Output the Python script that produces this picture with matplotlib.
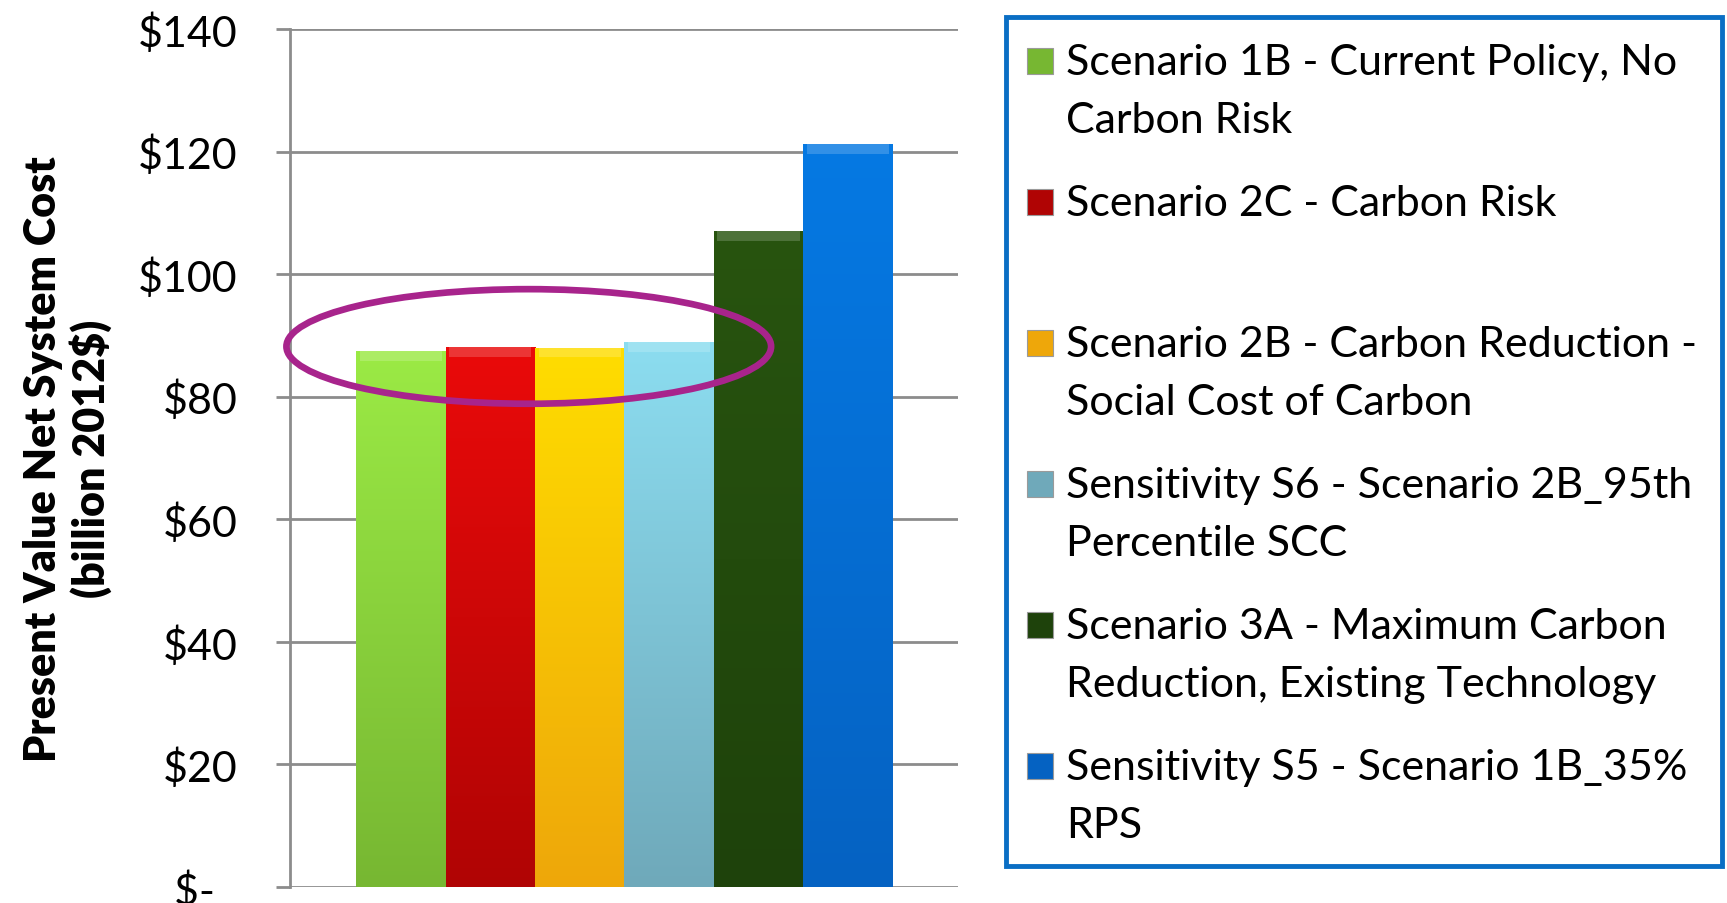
import numpy as np
import matplotlib.pyplot as plt
from matplotlib.patches import Ellipse, Rectangle
from matplotlib.colors import LinearSegmentedColormap

plt.rcParams['font.family'] = ['Lato', 'DejaVu Sans']

labels = ['Scenario 1B - Current Policy, No\nCarbon Risk',
          'Scenario 2C - Carbon Risk',
          'Scenario 2B - Carbon Reduction -\nSocial Cost of Carbon',
          'Sensitivity S6 - Scenario 2B_95th\nPercentile SCC',
          'Scenario 3A - Maximum Carbon\nReduction, Existing Technology',
          'Sensitivity S5 - Scenario 1B_35%\nRPS']
values = [87.4, 88.1, 88.0, 88.9, 107.0, 121.2]
# top / bottom colours of each bar gradient
top_colors = ['#9BEA45', '#EA0A0A', '#FFDD00', '#8CDDF0', '#28540F', '#0679E3']
bot_colors = ['#77B732', '#B00404', '#EEA70A', '#6FA9BA', '#1E420B', '#0562C2']
yticks = [0, 20, 40, 60, 80, 100, 120, 140]
yticklabels = ['$-  ', '$20', '$40', '$60', '$80', '$100', '$120', '$140']

fig = plt.figure(figsize=(17.27, 9.04), dpi=100)
ax = fig.add_axes([290/1727, 1 - 888/904, (958-290)/1727, (888-30)/904])

x = np.arange(len(values))
bars = ax.bar(x, values, width=1.0, color=bot_colors, zorder=2,
              edgecolor='none')
for b, c1, c2 in zip(bars, top_colors, bot_colors):
    cmap = LinearSegmentedColormap.from_list('g', [c2, c1])
    grad = np.linspace(0, 1, 256).reshape(-1, 1)
    x0, w, h = b.get_x(), b.get_width(), b.get_height()
    im = ax.imshow(grad, cmap=cmap, origin='lower', aspect='auto',
                   extent=[x0, x0 + w, 0, h], zorder=2.5)
    im.set_clip_path(b)
    # thin lighter bevel at the top
    ax.add_patch(Rectangle((x0 + 0.04, h - 1.6), w - 0.08, 1.6,
                           color='white', alpha=0.18, lw=0, zorder=3))

ax.set_xlim(-1.24, 6.23)
ax.set_ylim(0, 140)
ax.set_yticks(yticks)
ax.set_yticklabels(yticklabels)
ax.set_xticks([])
ax.yaxis.grid(True, color='#8C8C8C', linewidth=2, zorder=0)
ax.set_axisbelow(True)
ax.tick_params(axis='y', length=10, width=2, color='#8C8C8C', pad=28,
               labelsize=31)
for s in ['top', 'right', 'bottom']:
    ax.spines[s].set_visible(False)
ax.spines['left'].set_color('#8C8C8C')
ax.spines['left'].set_linewidth(2)

ax.set_ylabel('Present Value Net System Cost\n(billion 2012$)',
              fontsize=31, fontweight='heavy', labelpad=18, linespacing=1.2)

ell = Ellipse((1.43, 88.2), 5.42, 18.7, fill=False, edgecolor='#A8248C',
              linewidth=4.8, zorder=4, clip_on=False)
ax.add_patch(ell)

# legend box
fig.patches.append(Rectangle((1006/1727, 1 - 867/904), (1722-1006)/1727,
                             (867-18)/904, transform=fig.transFigure,
                             fill=False, edgecolor='#0A6EC4', linewidth=3.5))
for i, (lab, c1, c2) in enumerate(zip(labels, top_colors, bot_colors)):
    ytop = 62 + i * 141
    fig.patches.append(Rectangle((1027/1727, 1 - (ytop + 13)/904),
                                 26/1727, 26/904, transform=fig.transFigure,
                                 facecolor=c2, edgecolor='#9A9A9A',
                                 linewidth=0.8))
    fig.text(1066/1727, 1 - (ytop - 18)/904, lab, fontsize=31, va='top',
             ha='left', linespacing=1.64)

fig.savefig('out.png', dpi=100)
